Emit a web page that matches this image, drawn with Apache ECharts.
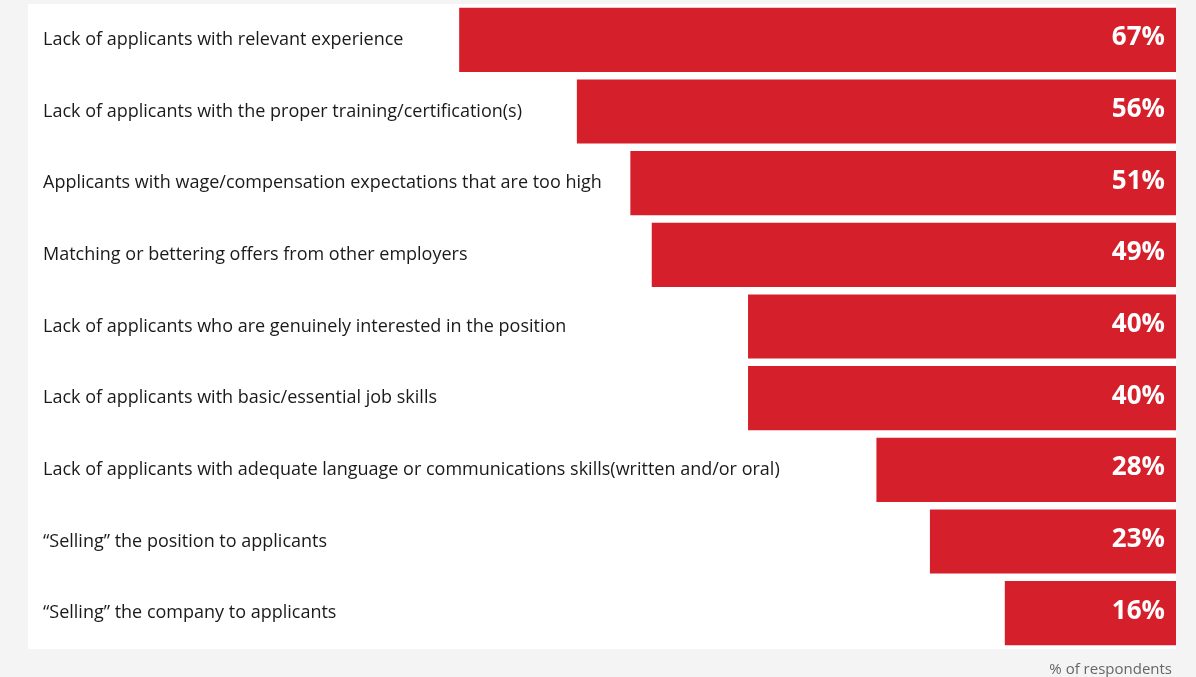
<!DOCTYPE html>
<html>
<head>
<meta charset="utf-8">
<script src="https://cdn.jsdelivr.net/npm/echarts@6/dist/echarts.min.js"></script>
<style>
  html, body { margin: 0; padding: 0; background: #f4f4f4; }
  #chart { width: 1196px; height: 677px; }
</style>
</head>
<body>
<div id="chart"></div>
<script>
// Hiring challenges, share of respondents (%)
const categories = [
  'Lack of applicants with relevant experience',
  'Lack of applicants with the proper training/certification(s)',
  'Applicants with wage/compensation expectations that are too high',
  'Matching or bettering offers from other employers',
  'Lack of applicants who are genuinely interested in the position',
  'Lack of applicants with basic/essential job skills',
  'Lack of applicants with adequate language or communications skills(written and/or oral)',
  '\u201CSelling\u201D the position to applicants',
  '\u201CSelling\u201D the company to applicants'
];
const values = [67, 56, 51, 49, 40, 40, 28, 23, 16];
const unitNote = '% of respondents';

const chart = echarts.init(document.getElementById('chart'), null, { renderer: 'canvas' });

chart.setOption({
  backgroundColor: '#f4f4f4',
  animation: false,
  title: {
    text: unitNote,
    right: 19,
    bottom: -5,
    textStyle: { fontFamily: 'Open Sans', fontSize: 15, fontWeight: 'normal', color: '#666' }
  },
  grid: {
    left: 28, right: 20, top: 4, bottom: 28,
    show: true, backgroundColor: '#ffffff', borderWidth: 0
  },
  xAxis: {
    type: 'value',
    inverse: true,
    min: 0,
    max: 107.3,
    show: false
  },
  yAxis: {
    type: 'category',
    data: categories,
    inverse: true,
    position: 'left',
    axisLine: { show: false },
    axisTick: { show: false },
    splitLine: { show: false },
    axisLabel: {
      inside: true,
      margin: 15,
      align: 'left',
      fontFamily: 'Open Sans',
      fontSize: 18,
      color: '#1a1a1a'
    }
  },
  series: [{
    type: 'bar',
    data: values,
    barCategoryGap: '10.5%',
    itemStyle: { color: '#d51f2a' },
    label: {
      show: true,
      position: 'insideRight',
      distance: 11,
      offset: [0, -2],
      formatter: '{c}%',
      fontFamily: 'Open Sans',
      fontWeight: 'bold',
      fontSize: 26,
      color: '#ffffff'
    }
  }]
});
</script>
</body>
</html>
